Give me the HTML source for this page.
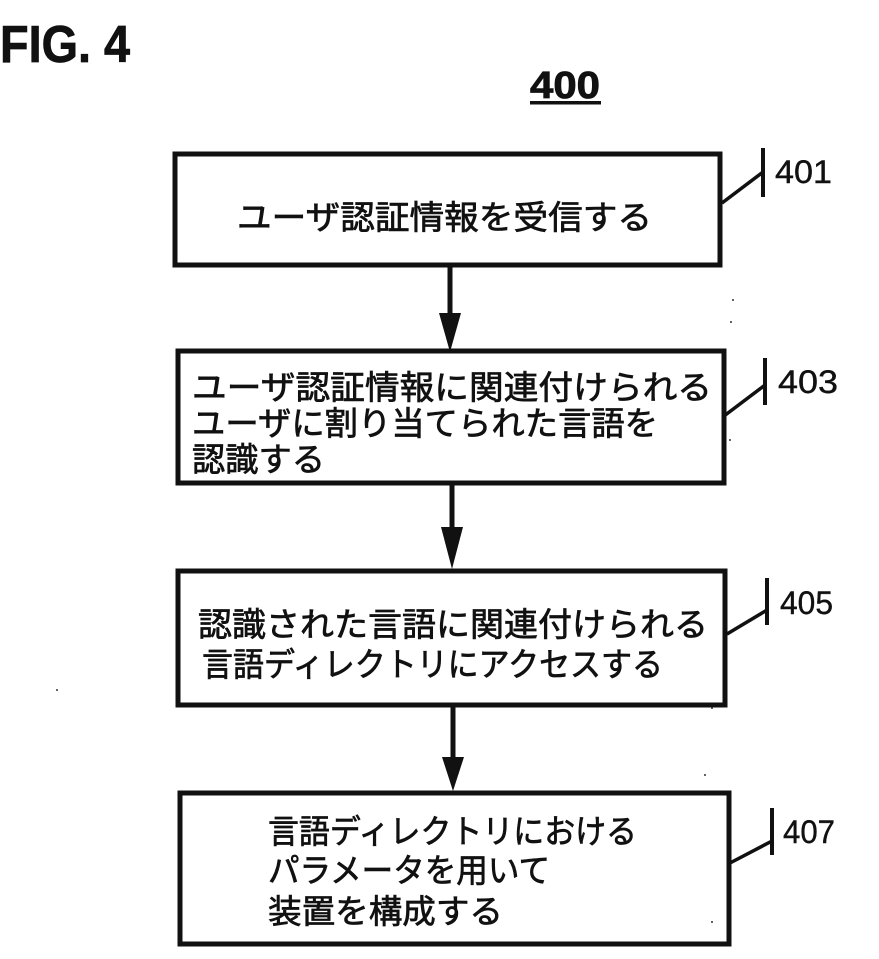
<!DOCTYPE html>
<html>
<head>
<meta charset="utf-8">
<style>
  html, body { margin:0; padding:0; background:#fff; }
  svg { display:block; }
  .jp { font-family: "Liberation Sans", "Noto Sans CJK JP", sans-serif; font-size:33px; fill:#111; stroke:#111; stroke-width:0.7px; }
  .num { font-family: "Liberation Sans", sans-serif; font-size:32px; fill:#111; stroke:#111; stroke-width:0.4px; }
</style>
</head>
<body>
<svg width="879" height="959" viewBox="0 0 879 959" xmlns="http://www.w3.org/2000/svg">
  <rect x="0" y="0" width="879" height="959" fill="#fff"/>

  <!-- Header -->
  <text x="0" y="62" font-family="Liberation Sans, sans-serif" font-weight="bold" font-size="52" fill="#111" stroke="#111" stroke-width="0.8" textLength="130" lengthAdjust="spacingAndGlyphs">FIG. 4</text>
  <text x="530" y="98" font-family="Liberation Sans, sans-serif" font-weight="bold" font-size="38" fill="#111" stroke="#111" stroke-width="0.8" textLength="70" lengthAdjust="spacingAndGlyphs">400</text>
  <rect x="530" y="101" width="71" height="3.5" fill="#111"/>

  <!-- Boxes -->
  <g fill="none" stroke="#111" stroke-width="5">
    <rect x="175" y="154" width="545" height="111"/>
    <rect x="178" y="351" width="546" height="132"/>
    <rect x="178" y="571" width="547" height="134"/>
    <rect x="180" y="793" width="549" height="151"/>
  </g>

  <!-- Arrows -->
  <g stroke="#111" stroke-width="5">
    <line x1="450" y1="266" x2="450" y2="315"/>
    <line x1="452" y1="485" x2="452" y2="529"/>
    <line x1="453" y1="707" x2="453" y2="759"/>
  </g>
  <g fill="#111">
    <polygon points="439,313 461,313 450,352"/>
    <polygon points="441,527 463,527 452,569"/>
    <polygon points="442,757 464,757 453,791"/>
  </g>

  <!-- Leaders -->
  <g stroke="#111" stroke-width="4">
    <line x1="763" y1="148" x2="763" y2="197"/>
    <line x1="765" y1="358" x2="765" y2="405"/>
    <line x1="767" y1="578" x2="767" y2="625"/>
    <line x1="772" y1="808" x2="772" y2="855"/>
  </g>
  <g stroke="#111" stroke-width="3.5">
    <line x1="722" y1="203" x2="763" y2="172"/>
    <line x1="724" y1="416" x2="765" y2="385"/>
    <line x1="727" y1="634" x2="767" y2="610"/>
    <line x1="730" y1="863" x2="772" y2="841"/>
  </g>
  <text class="num" x="775" y="183" textLength="57" lengthAdjust="spacingAndGlyphs">401</text>
  <text class="num" x="778" y="393" textLength="60" lengthAdjust="spacingAndGlyphs">403</text>
  <text class="num" x="780" y="614" textLength="53" lengthAdjust="spacingAndGlyphs">405</text>
  <text class="num" x="783" y="843" textLength="52" lengthAdjust="spacingAndGlyphs">407</text>

  <!-- Box 1 text -->
  <text class="jp" x="237" y="229" textLength="415" lengthAdjust="spacingAndGlyphs">ユーザ認証情報を受信する</text>

  <!-- Box 2 text -->
  <text class="jp" x="192" y="399" textLength="520" lengthAdjust="spacingAndGlyphs">ユーザ認証情報に関連付けられる</text>
  <text class="jp" x="192" y="435" textLength="466" lengthAdjust="spacingAndGlyphs">ユーザに割り当てられた言語を</text>
  <text class="jp" x="192" y="471" textLength="133" lengthAdjust="spacingAndGlyphs">認識する</text>

  <!-- Box 3 text -->
  <text class="jp" x="198" y="636" textLength="510" lengthAdjust="spacingAndGlyphs">認識された言語に関連付けられる</text>
  <text class="jp" x="202" y="676" textLength="461" lengthAdjust="spacingAndGlyphs">言語ディレクトリにアクセスする</text>

  <!-- Box 4 text -->
  <text class="jp" x="268" y="843" textLength="369" lengthAdjust="spacingAndGlyphs">言語ディレクトリにおける</text>
  <text class="jp" x="268" y="882" textLength="282" lengthAdjust="spacingAndGlyphs">パラメータを用いて</text>
  <text class="jp" x="268" y="923" textLength="235" lengthAdjust="spacingAndGlyphs">装置を構成する</text>

  <!-- specks -->
  <g fill="#333">
    <circle cx="733" cy="300" r="1"/>
    <circle cx="731" cy="322" r="1"/>
    <circle cx="730" cy="440" r="1"/>
    <circle cx="712" cy="708" r="1"/>
    <circle cx="705" cy="775" r="1"/>
    <circle cx="712" cy="922" r="1"/>
    <circle cx="57" cy="690" r="1"/>
  </g>
</svg>
</body>
</html>
